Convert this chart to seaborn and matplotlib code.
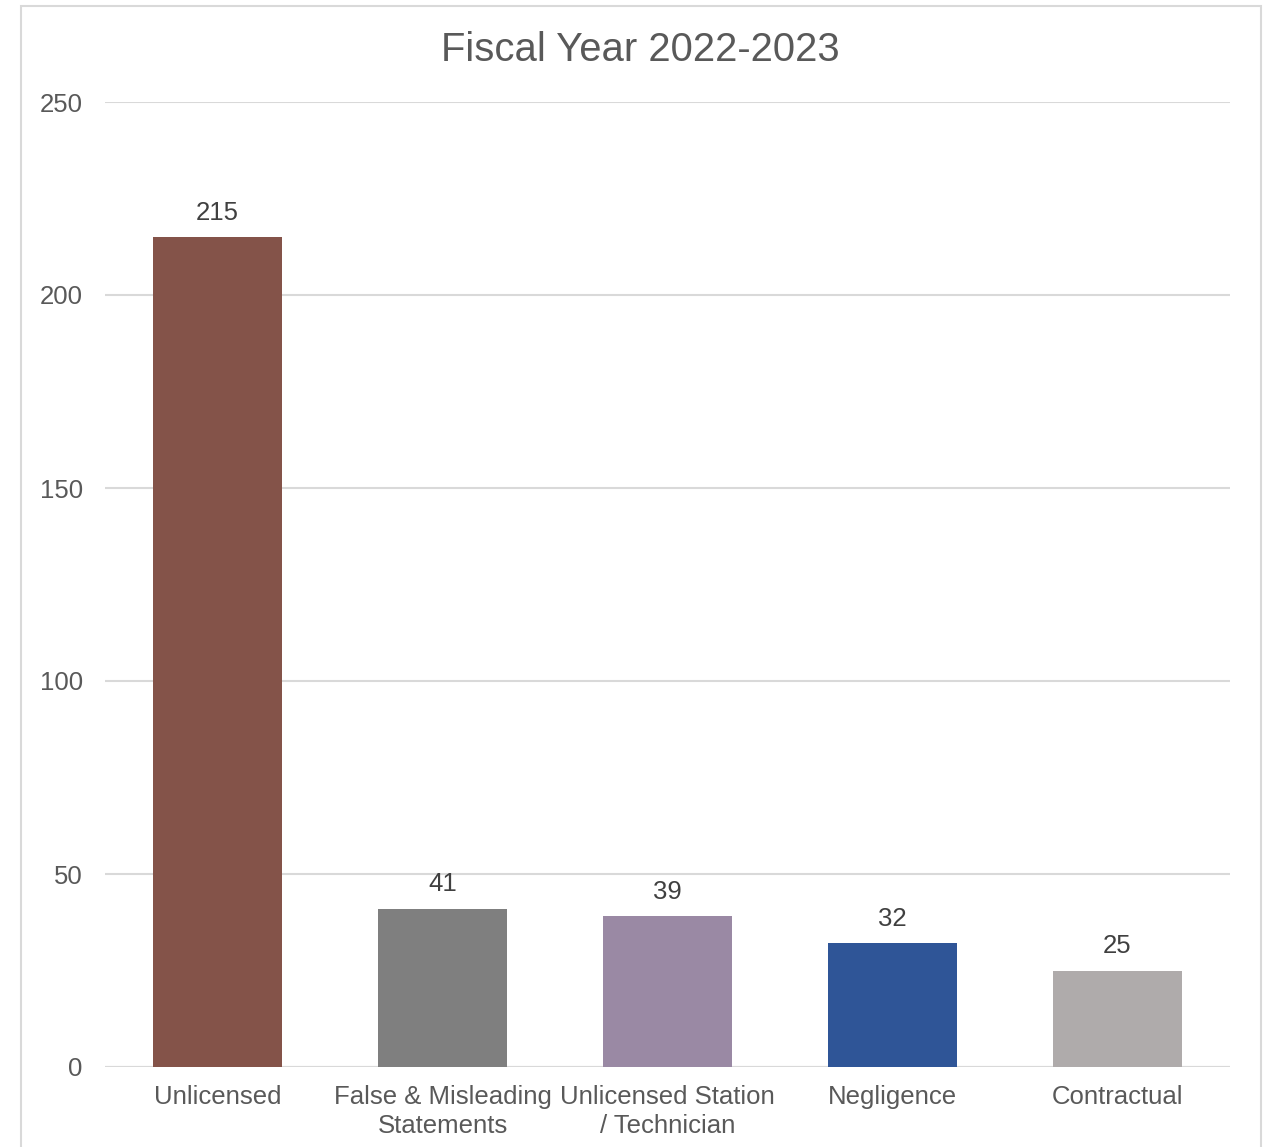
import matplotlib
matplotlib.use("Agg")
import matplotlib.pyplot as plt
import seaborn as sns
import pandas as pd
from matplotlib.patches import Rectangle

categories = ["Unlicensed", "False & Misleading\nStatements", "Unlicensed Station\n/ Technician",
              "Negligence", "Contractual"]
values = [215, 41, 39, 32, 25]
colors = ["#845349", "#7f7f7f", "#9a89a4", "#2f5597", "#afabab"]
yticks = [0, 50, 100, 150, 200, 250]
title = "Fiscal Year 2022-2023"

sns.set_theme(style="white")
plt.rcParams['font.family'] = ['Liberation Sans', 'DejaVu Sans']

df = pd.DataFrame({"cat": categories, "val": values})

fig = plt.figure(figsize=(12.73, 11.47), dpi=100)
ax = fig.add_axes([105/1273, 1 - 1067/1147, (1230-105)/1273, (1067-102)/1147])

sns.barplot(data=df, x="cat", y="val", hue="cat", palette=colors, legend=False,
            width=0.57, ax=ax, saturation=1, linewidth=0)

ax.set_xlim(-0.5, 4.5)
ax.set_ylim(0, 250)
ax.set_yticks(yticks)
ax.yaxis.grid(True, color="#d9d9d9", linewidth=1.5)
ax.set_axisbelow(True)
for s in ["top", "right", "left", "bottom"]:
    ax.spines[s].set_visible(False)
ax.axhline(0, color="#d9d9d9", linewidth=1.5, zorder=0)
ax.set_xlabel("")
ax.set_ylabel("")
ax.tick_params(axis="both", length=0, labelsize=18.5, labelcolor="#595959")
ax.tick_params(axis="y", pad=16)
ax.tick_params(axis="x", pad=13)
for lbl in ax.get_xticklabels():
    lbl.set_linespacing(1.25)

for cont in ax.containers:
    ax.bar_label(cont, fmt="%d", padding=9, fontsize=18.5, color="#404040")

fig.text(640/1273, 1 - 50/1147, title, ha="center", va="center", fontsize=28.8, color="#595959")

fig.patches.append(Rectangle((21/1273, -0.1), (1261-21)/1273, 0.1 + (1147-6)/1147,
                             transform=fig.transFigure, fill=False, edgecolor="#d9d9d9",
                             linewidth=1.5))

fig.savefig("out.png", dpi=100, facecolor="white")
